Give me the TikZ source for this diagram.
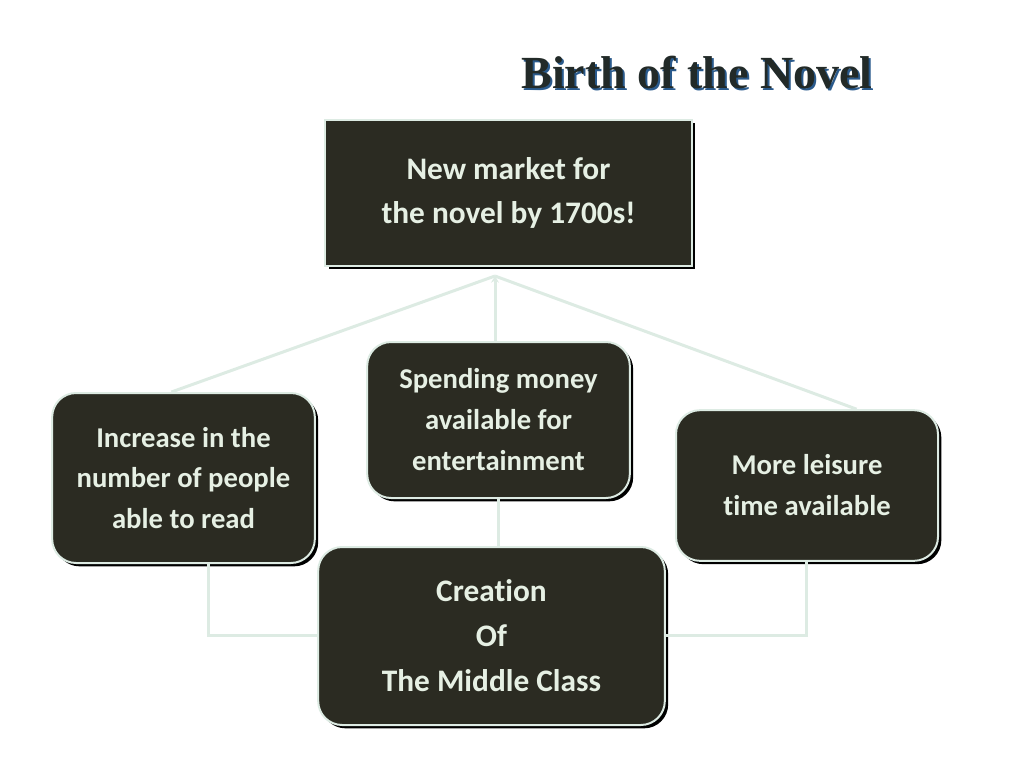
\documentclass[tikz,border=0pt]{standalone}
\usepackage{fontspec}
\setmainfont{Carlito}[Ligatures=NoCommon]
\newfontfamily\titlefont{Liberation Serif}
\usetikzlibrary{shadows,arrows.meta}
\definecolor{boxfill}{HTML}{2B2B22}
\definecolor{boxtext}{HTML}{E6F0E4}
\definecolor{edge}{HTML}{DDEBE3}
\definecolor{titledark}{HTML}{222A28}
\definecolor{titleblue}{HTML}{2A5A8C}
\begin{document}
\begin{tikzpicture}[x=0.75pt,y=-0.75pt,
    darkbox/.style={draw=edge, line width=1.5pt, fill=boxfill, text=boxtext,
        align=center, inner sep=0pt,
        drop shadow={shadow xshift=2.5pt, shadow yshift=-2.5pt, fill=black, opacity=1}},
    roundbox/.style={darkbox, rounded corners=18pt},
    link/.style={draw=edge, line width=2.25pt}]
    \useasboundingbox (0,0) rectangle (1024,768);
    % Titel
    \node[font=\titlefont\bfseries\fontsize{34.5}{36}\selectfont, text=titleblue] (titleshadow) at (699,75) {Birth of the Novel};
    \node[font=\titlefont\bfseries\fontsize{34.5}{36}\selectfont, text=titledark] (title) at (697,73) {Birth of the Novel};
    % Kästen
    \node[darkbox, minimum width=275pt, minimum height=109.5pt,
        font=\bfseries\fontsize{23.5}{33}\selectfont] (market) at (508.5,193)
        {New market for\\the novel by 1700s!};
    \node[roundbox, minimum width=197pt, minimum height=127.5pt,
        font=\bfseries\fontsize{21.5}{30.5}\selectfont] (reading) at (183.5,478)
        {Increase in the\\number of people\\able to read};
    \node[roundbox, minimum width=197pt, minimum height=117pt,
        font=\bfseries\fontsize{21.5}{30.75}\selectfont] (money) at (498.5,420)
        {Spending money\\available for\\entertainment};
    \node[roundbox, minimum width=196.5pt, minimum height=113pt,
        font=\bfseries\fontsize{21.5}{30.75}\selectfont] (leisure) at (807,485.5)
        {More leisure\\time available};
    \node[roundbox, minimum width=260pt, minimum height=133.5pt,
        font=\bfseries\fontsize{23.5}{33.75}\selectfont] (middle) at (491.5,636)
        {Creation\\Of\\The Middle Class};
    % Verbindungen oben
    \coordinate (apex) at (495,276);
    \draw[link, -{Stealth[length=5pt,width=6pt]}] (money.north -| apex) -- (apex);
    \draw[link] (apex) -- (reading.98);
    \draw[link] (apex) -- (leisure.57);
    % Verbindungen unten
    \coordinate (lcorner) at (208,635);
    \coordinate (rcorner) at (806,635);
    \draw[link] (reading.south -| lcorner) -- (lcorner) -- (lcorner -| middle.west);
    \draw[link] (leisure.south -| rcorner) -- (rcorner) -- (rcorner -| middle.east);
    \draw[link] (money.south) -- (money.south |- middle.north);
\end{tikzpicture}
\end{document}
